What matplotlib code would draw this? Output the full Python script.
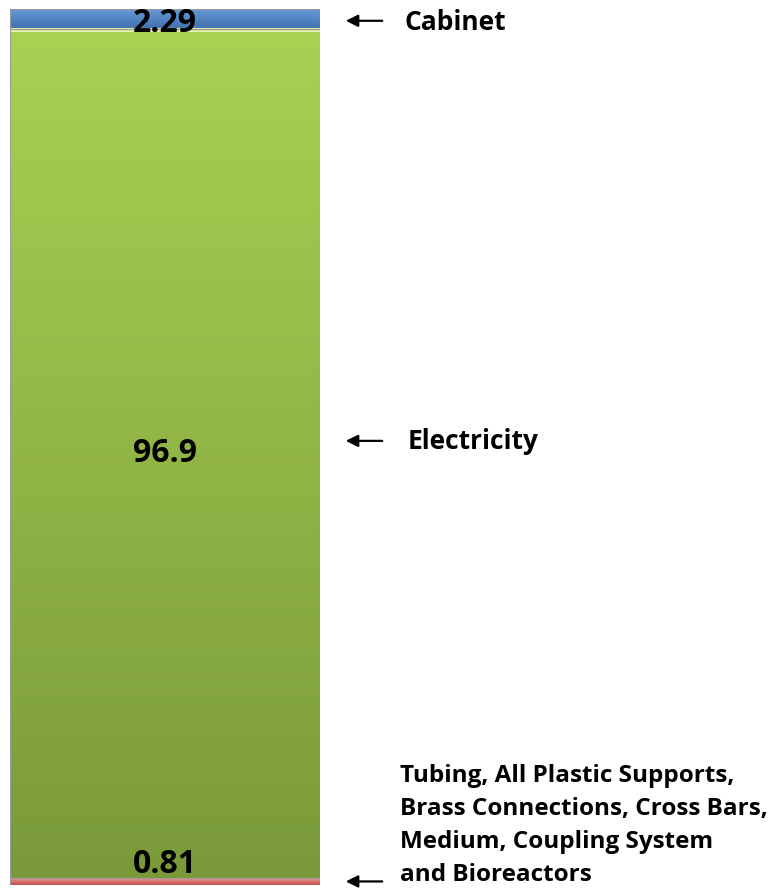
import numpy as np
import matplotlib.pyplot as plt
from matplotlib.colors import LinearSegmentedColormap

# stacked contributions (%), bottom to top
components = ["Tubing", "Electricity", "Cabinet"]
values = [0.81, 96.9, 2.29]
value_labels = ["0.81", "96.9", "2.29"]
side_labels = [
    "Tubing, All Plastic Supports,\nBrass Connections, Cross Bars,\nMedium, Coupling System\nand Bioreactors",
    "Electricity",
    "Cabinet",
]

# (top colour, bottom colour) for each segment's shading
shades = [("#f0a09c", "#c0504d"), ("#a9d152", "#7a9a3a"), ("#6a9bd8", "#3f6fae")]

plt.rcParams["font.family"] = ["Open Sans", "DejaVu Sans"]

fig = plt.figure(figsize=(7.76, 8.90), dpi=100)
ax = fig.add_axes([10 / 776, 5 / 890, 310 / 776, 876 / 890])
ax.set_xlim(0, 1)
ax.set_ylim(0, sum(values))
ax.axis("off")

bottoms = np.concatenate([[0], np.cumsum(values)[:-1]])
bars = ax.bar([0.5] * len(values), values, width=1.0, bottom=bottoms,
              color="none", edgecolor="#9a9a9a", linewidth=0.8, zorder=3)

grad = np.linspace(1, 0, 256).reshape(-1, 1)
for bar, (top, bot), b, v in zip(bars, shades, bottoms, values):
    cmap = LinearSegmentedColormap.from_list("seg", [bot, top])
    im = ax.imshow(grad, cmap=cmap, aspect="auto", extent=[0, 1, b, b + v],
                   origin="upper", zorder=2)
    im.set_clip_path(bar)

# thin highlight along the top of the electricity segment
ax.axhline(bottoms[2] - 0.15, color="#e4f0a8", linewidth=3, zorder=2.5)

# value labels
ax.text(0.5, bottoms[0] + values[0] - 0.3, value_labels[0], ha="center", va="bottom",
        fontsize=23, fontweight="bold", zorder=5)
ax.text(0.5, bottoms[1] + values[1] / 2, value_labels[1], ha="center", va="center",
        fontsize=23, fontweight="bold", zorder=5)
ax.text(0.5, bottoms[2] + values[2] / 2 - 0.5, value_labels[2], ha="center", va="center",
        fontsize=23, fontweight="bold", zorder=5)

# side annotations with arrows
arrow_y = [values[0] / 2, 50.7, bottoms[2] + values[2] / 2 - 0.2]
text_y = [6.8, 50.6, bottoms[2] + values[2] / 2 - 0.4]
text_x = [390, 398, 395]
text_size = [17.5, 19, 19]
for lab, ay, ty, tx, fs in zip(side_labels, arrow_y, text_y, text_x, text_size):
    ax.annotate("", xy=(333 / 310, ay), xytext=(375 / 310, ay),
                arrowprops=dict(arrowstyle="-|>", color="black", lw=1.6,
                                mutation_scale=18),
                annotation_clip=False)
    ax.text(tx / 310, ty, lab, ha="left", va="center", fontsize=fs,
            fontweight="bold", linespacing=1.5, clip_on=False)

fig.savefig("out.png", dpi=100)
